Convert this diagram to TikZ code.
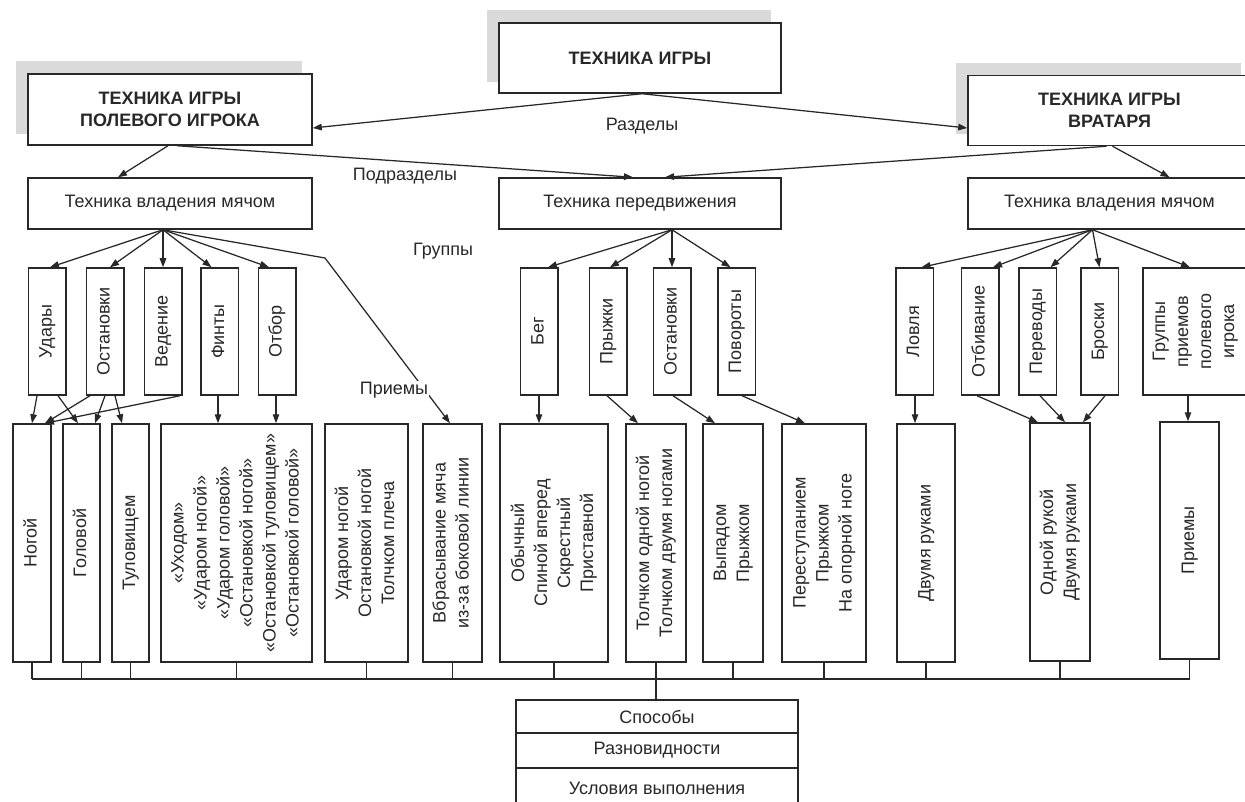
\documentclass[tikz,border=0pt]{standalone}
\usepackage{fontspec}
\setmainfont{Liberation Sans}
\usepackage{graphicx}
\usetikzlibrary{arrows.meta,calc,backgrounds}
\definecolor{ink}{RGB}{40,40,40}
\definecolor{shadowgray}{RGB}{218,218,218}
\newcommand{\vtxt}[1]{\rotatebox{90}{\begin{tabular}{@{}c@{}}#1\end{tabular}}}
\begin{document}
\begin{tikzpicture}[x=1pt,y=-1pt,
  box/.style={draw=ink, line width=1.5pt, fill=white, inner sep=0pt, text=ink,
    font=\fontsize{18}{23}\selectfont, align=center},
  topbox/.style={box, font=\bfseries\fontsize{18}{22}\selectfont},
  conn/.style={draw=ink, line width=1.25pt},
  arr/.style={conn, -{Triangle[length=9pt,width=6.5pt]}},
  lbl/.style={text=ink, font=\fontsize{18}{23}\selectfont, inner sep=1pt},
]
\useasboundingbox (0,0) rectangle (1245,802);
\clip (0,0) rectangle (1245,802);

% level 1
\node[topbox, minimum width=282pt, minimum height=70pt] (tg) at (640,58) {ТЕХНИКА ИГРЫ};
\node[topbox, minimum width=284pt, minimum height=71pt] (pol) at (170,109.5) {ТЕХНИКА ИГРЫ\\ПОЛЕВОГО ИГРОКА};
\node[topbox, minimum width=283pt, minimum height=70pt] (vrat) at (1109.5,110.5) {ТЕХНИКА ИГРЫ\\ВРАТАРЯ};
\begin{scope}[on background layer]
  \foreach \n in {tg,pol,vrat}
    \fill[shadowgray] ($(\n.south west)+(-11,-12)$) rectangle ($(\n.north east)+(-11,-12)$);
\end{scope}

% level 2
\node[box, minimum width=284pt, minimum height=51pt] (bal) at (170,203.5) {Техника владения мячом};
\node[box, minimum width=282pt, minimum height=51pt] (per) at (640,203.5) {Техника передвижения};
\node[box, minimum width=283pt, minimum height=51pt] (bal2) at (1109.5,203.5) {Техника владения мячом};

% level 3 (groups)
\tikzset{grp/.style={box, minimum width=37.5pt, minimum height=127pt}}
\node[grp] (udary) at (47,331.5) {\vtxt{Удары}};
\node[grp] (ostan) at (105,331.5) {\vtxt{Остановки}};
\node[grp] (veden) at (163,331.5) {\vtxt{Ведение}};
\node[grp] (finty) at (219.5,331.5) {\vtxt{Финты}};
\node[grp] (otbor) at (277,331.5) {\vtxt{Отбор}};
\node[grp] (beg) at (539,331.5) {\vtxt{Бег}};
\node[grp] (pryzh) at (608,331.5) {\vtxt{Прыжки}};
\node[grp] (ostanb) at (672,331.5) {\vtxt{Остановки}};
\node[grp] (povor) at (736.5,331.5) {\vtxt{Повороты}};
\node[grp] (lovl) at (914.5,331.5) {\vtxt{Ловля}};
\node[grp] (otbiv) at (980,331.5) {\vtxt{Отбивание}};
\node[grp] (perev) at (1037.5,331.5) {\vtxt{Переводы}};
\node[grp] (brosk) at (1099.5,331.5) {\vtxt{Броски}};
\node[box, minimum width=104pt, minimum height=127pt] (grpr) at (1195,331.5) {\vtxt{Группы\\приемов\\полевого\\игрока}};

% level 4
\tikzset{sub/.style={box, minimum height=238pt}}
\node[sub, minimum width=38pt] (nogoy) at (32,543) {\vtxt{Ногой}};
\node[sub, minimum width=37pt] (golov) at (81.5,543) {\vtxt{Головой}};
\node[sub, minimum width=37pt] (tulov) at (130.5,543) {\vtxt{Туловищем}};
\node[sub, minimum width=151pt] (fint2) at (236.5,543) {\vtxt{«Уходом»\\«Ударом ногой»\\«Ударом головой»\\«Остановкой ногой»\\«Остановкой туловищем»\\«Остановкой головой»}};
\node[sub, minimum width=83pt] (otb2) at (366.5,543) {\vtxt{Ударом ногой\\Остановкой ногой\\Толчком плеча}};
\node[sub, minimum width=59pt] (vbr) at (452.5,543) {\vtxt{Вбрасывание мяча\\из-за боковой линии}};
\node[sub, minimum width=108pt] (obych) at (554,543) {\vtxt{Обычный\\Спиной вперед\\Скрестный\\Приставной}};
\node[sub, minimum width=60pt] (tolch) at (656,543) {\vtxt{Толчком одной ногой\\Толчком двумя ногами}};
\node[sub, minimum width=60pt] (vypad) at (733,543) {\vtxt{Выпадом\\Прыжком}};
\node[sub, minimum width=84pt] (perest) at (824,543) {\vtxt{Переступанием\\Прыжком\\На опорной ноге}};
\node[sub, minimum width=58pt] (dvum) at (926,543) {\vtxt{Двумя руками}};
\node[sub, minimum width=60pt] (odnoy) at (1060,542) {\vtxt{Одной рукой\\Двумя руками}};
\node[sub, minimum width=59pt, minimum height=237pt] (priem) at (1189.5,540.5) {\vtxt{Приемы}};

% bottom table
\node[box, minimum width=282pt, minimum height=33pt] (sp) at (657,716.5) {Способы};
\node[box, minimum width=282pt, minimum height=35pt] (raz) at (657,750.5) {Разновидности};
\node[box, minimum width=282pt, minimum height=40pt] (usl) at (657,788) {Условия выполнения};

% level 1 connectors
\draw[arr] ($(tg.south)+(2,0)$) -- ($(pol.east)+(0,18.5)$);
\draw[arr] ($(tg.south)+(2,0)$) -- ($(vrat.west)+(0,17.5)$);
\draw[arr] ($(pol.south)+(-2,0)$) -- ($(bal.north)+(-52,0)$);
\draw[arr] ($(pol.south)+(7,0)$) -- ($(per.north)+(-7,0)$);
\draw[arr] ($(vrat.south)+(-3,0)$) -- ($(per.north)+(25,0)$);
\draw[arr] ($(vrat.south)+(3,0)$) -- ($(bal2.north)+(60,0)$);

% level 2 connectors
\coordinate (o1) at ($(bal.south)+(-7,0)$);
\draw[arr] (o1) -- ($(udary.north)+(3,0)$);
\draw[arr] (o1) -- ($(ostan.north)+(5,0)$);
\draw[arr] (o1) -- (veden.north);
\draw[arr] (o1) -- ($(finty.north)+(-8,0)$);
\draw[arr] (o1) -- ($(otbor.north)+(-8,0)$);
\coordinate (bend) at (325,258);
\draw[arr] (o1) -- (bend) -- ($(vbr.north)+(-2.5,0)$);
\coordinate (o2) at ($(per.south)+(32,0)$);
\draw[arr] (o2) -- ($(beg.north)+(9,0)$);
\draw[arr] (o2) -- ($(pryzh.north)+(2,0)$);
\draw[arr] (o2) -- (ostanb.north);
\draw[arr] (o2) -- ($(povor.north)+(-6,0)$);
\coordinate (o3) at ($(bal2.south)+(-17,0)$);
\draw[arr] (o3) -- ($(lovl.north)+(7,0)$);
\draw[arr] (o3) -- ($(otbiv.north)+(13,0)$);
\draw[arr] (o3) -- ($(perev.north)+(13,0)$);
\draw[arr] (o3) -- (brosk.north);
\draw[arr] (o3) -- ($(grpr.north)+(-5,0)$);

% level 3 connectors
\draw[arr] ($(udary.south)+(-10,0)$) -- (nogoy.north);
\draw[arr] ($(udary.south)+(11,0)$) -- ($(golov.north)+(-3.5,0)$);
\draw[arr] ($(ostan.south)+(-15,0)$) -- ($(nogoy.north)+(13,0)$);
\draw[arr] (ostan.south) -- ($(golov.north)+(13.5,0)$);
\draw[arr] ($(ostan.south)+(10,0)$) -- ($(tulov.north)+(-8.5,0)$);
\draw[arr] ($(veden.south)+(17,0)$) -- ($(nogoy.north)+(13,0)$);
\draw[arr] ($(finty.south)+(-1.5,0)$) -- ($(fint2.north)+(-18.5,0)$);
\draw[arr] ($(otbor.south)+(-1,0)$) -- ($(fint2.north)+(39.5,0)$);
\draw[arr] (beg.south) -- ($(obych.north)+(-15,0)$);
\draw[arr] ($(pryzh.south)+(-1,0)$) -- ($(tolch.north)+(-18,0)$);
\draw[arr] ($(ostanb.south)+(1,0)$) -- ($(vypad.north)+(-18,0)$);
\draw[arr] ($(povor.south)+(5.5,0)$) -- ($(perest.north)+(-19,0)$);
\draw[arr] ($(lovl.south)+(0.5,0)$) -- ($(dvum.north)+(-11,0)$);
\draw[arr] ($(otbiv.south)+(-3,0)$) -- ($(odnoy.north)+(-22,0)$);
\draw[arr] ($(perev.south)+(2.5,0)$) -- ($(odnoy.north)+(5,0)$);
\draw[arr] ($(brosk.south)+(5.5,0)$) -- ($(odnoy.north)+(23,0)$);
\draw[arr] ($(grpr.south)+(-7,0)$) -- ($(priem.north)+(-1.5,0)$);

% bus
\coordinate (bus) at (0,679);
\foreach \n in {nogoy,golov,tulov,fint2,otb2,vbr,obych,tolch,vypad,perest,dvum,odnoy,priem}
  \draw[conn] (\n.south) -- (\n.south |- bus);
\draw[conn] (nogoy.south |- bus) -- (priem.south |- bus);
\draw[conn] (tolch.south |- bus) -- (tolch.south |- sp.north);

% labels
\node[lbl] (l1) at (642,126) {Разделы};
\node[lbl] (l2) at (405,176) {Подразделы};
\node[lbl] (l3) at (443,251) {Группы};
\node[lbl, fill=white] (l4) at (394,390) {Приемы};
\end{tikzpicture}
\end{document}
